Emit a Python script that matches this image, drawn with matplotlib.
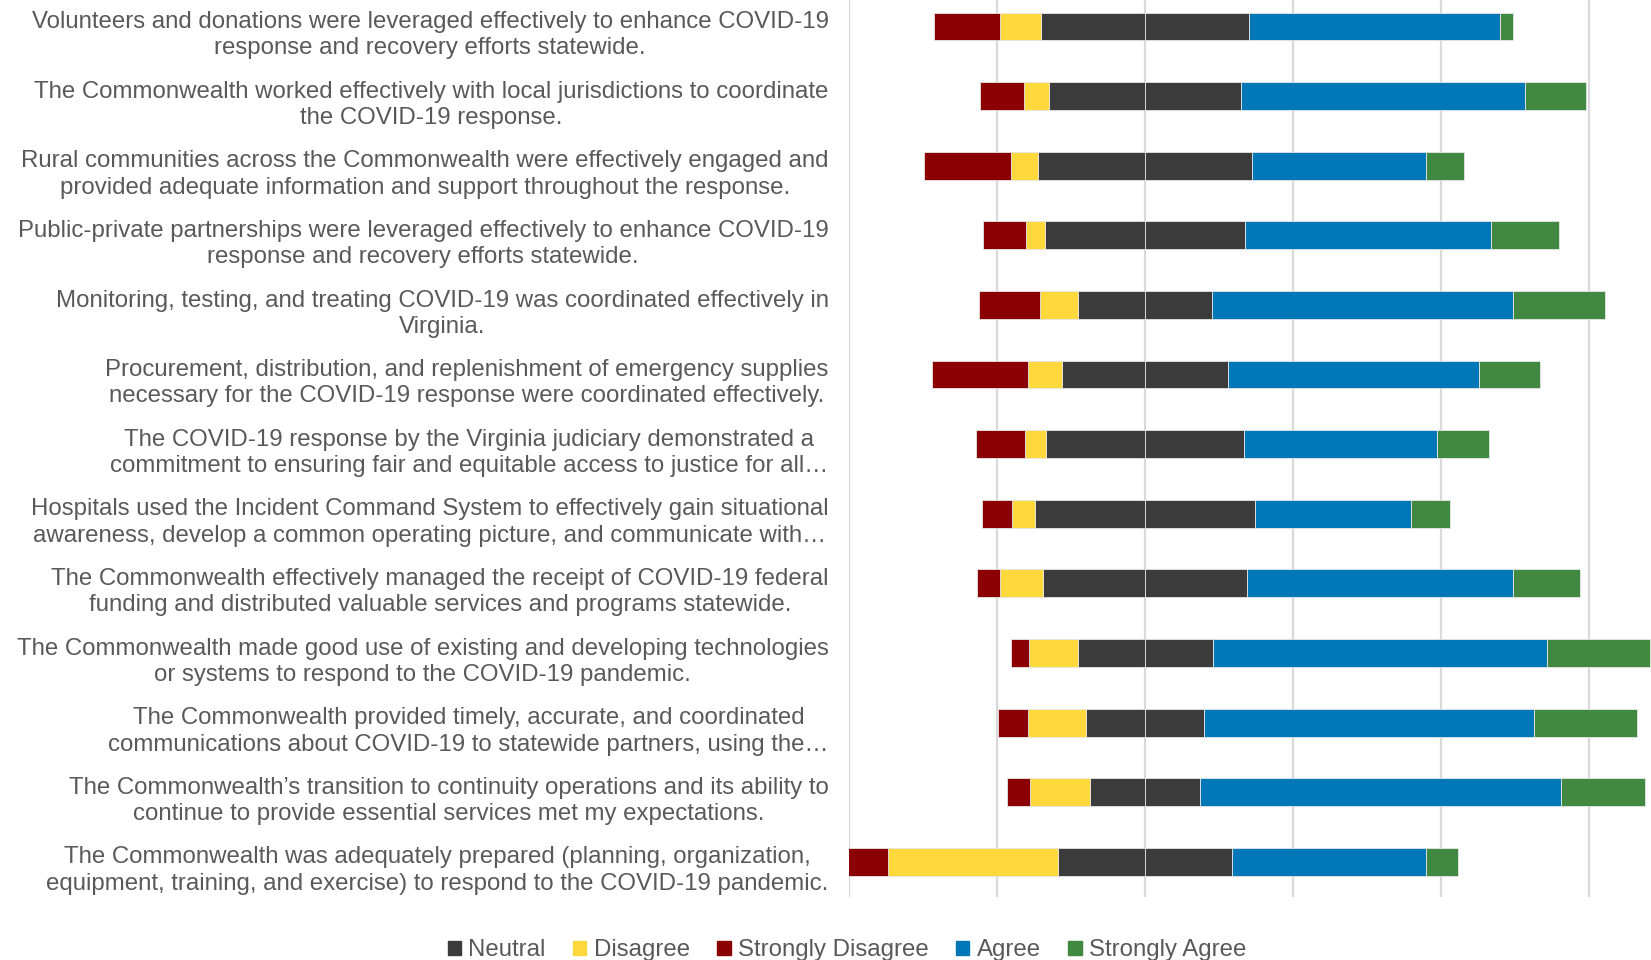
import numpy as np
import matplotlib
matplotlib.use("Agg")
import matplotlib.pyplot as plt
import matplotlib.transforms as mtransforms
from matplotlib.patches import Patch

plt.rcParams['font.family'] = ['Liberation Sans', 'DejaVu Sans']

statements = [
    "Volunteers and donations were leveraged effectively to enhance COVID-19\nresponse and recovery efforts statewide.",
    "The Commonwealth worked effectively with local jurisdictions to coordinate\nthe COVID-19 response.",
    "Rural communities across the Commonwealth were effectively engaged and\nprovided adequate information and support throughout the response.",
    "Public-private partnerships were leveraged effectively to enhance COVID-19\nresponse and recovery efforts statewide.",
    "Monitoring, testing, and treating COVID-19 was coordinated effectively in\nVirginia.",
    "Procurement, distribution, and replenishment of emergency supplies\nnecessary for the COVID-19 response were coordinated effectively.",
    "The COVID-19 response by the Virginia judiciary demonstrated a\ncommitment to ensuring fair and equitable access to justice for all\u2026",
    "Hospitals used the Incident Command System to effectively gain situational\nawareness, develop a common operating picture, and communicate with\u2026",
    "The Commonwealth effectively managed the receipt of COVID-19 federal\nfunding and distributed valuable services and programs statewide.",
    "The Commonwealth made good use of existing and developing technologies\nor systems to respond to the COVID-19 pandemic.",
    "The Commonwealth provided timely, accurate, and coordinated\ncommunications about COVID-19 to statewide partners, using the\u2026",
    "The Commonwealth\u2019s transition to continuity operations and its ability to\ncontinue to provide essential services met my expectations.",
    "The Commonwealth was adequately prepared (planning, organization,\nequipment, training, and exercise) to respond to the COVID-19 pandemic.",
]

# percent of responses per statement
strongly_disagree = [8.8, 6.0, 11.8, 5.9, 8.2, 13.0, 6.6, 4.0, 3.1, 2.4, 4.1, 3.1, 5.4]
disagree = [5.6, 3.4, 3.6, 2.6, 5.2, 4.6, 2.9, 3.2, 5.8, 6.6, 7.9, 8.1, 23.0]
neutral = [28.2, 25.9, 29.0, 27.0, 18.1, 22.5, 26.8, 29.7, 27.6, 18.3, 15.9, 14.9, 23.5]
agree = [33.9, 38.4, 23.5, 33.2, 40.7, 33.9, 26.0, 21.1, 36.0, 45.2, 44.6, 48.8, 26.2]
strongly_agree = [1.75, 8.2, 5.1, 9.2, 12.4, 8.3, 7.1, 5.2, 9.0, 13.9, 14.0, 11.3, 4.4]

c_sd = '#8B0000'
c_d = '#FFD83B'
c_n = '#3A3B3A'
c_a = '#0078B8'
c_sa = '#418940'

sd = np.array(strongly_disagree)
d = np.array(disagree)
n = np.array(neutral)
a = np.array(agree)
sa = np.array(strongly_agree)
y = np.arange(len(statements))

fig = plt.figure(figsize=(16.51, 9.6), dpi=100)
ax = fig.add_axes([0.5145, 0.066, 0.4855, 0.934])

h = 0.4
kw = dict(height=h, edgecolor='#e6e6e6', linewidth=0.6, zorder=3)
# negative side, built outward from the middle of the neutral block
ax.barh(y, -n / 2, left=0, color=c_n, **kw)
ax.barh(y, -d, left=-n / 2, color=c_d, **kw)
ax.barh(y, -sd, left=-n / 2 - d, color=c_sd, **kw)
# positive side
ax.barh(y, n / 2, left=0, color=c_n, **kw)
ax.barh(y, a, left=n / 2, color=c_a, **kw)
ax.barh(y, sa, left=n / 2 + a, color=c_sa, **kw)

ax.set_xlim(-40, 68.4)
ax.set_ylim(12.5, -0.38)
ax.set_xticks([-40, -20, 0, 20, 40, 60])
ax.set_xticklabels([])
ax.grid(axis='x', color='#d9d9d9', linewidth=1.6, zorder=0)
ax.set_axisbelow(True)
ax.tick_params(length=0)
for s in ax.spines.values():
    s.set_visible(False)

ax.set_yticks(y)
ax.set_yticklabels(statements, fontsize=17.3, color='#595959',
                   ha='right', multialignment='center', linespacing=1.25)
ax.tick_params(axis='y', pad=15)
shift = mtransforms.ScaledTranslation(0, -3 / 72, fig.dpi_scale_trans)
for lbl in ax.get_yticklabels():
    lbl.set_transform(lbl.get_transform() + shift)

handles = [Patch(color=c_n, label='Neutral'),
           Patch(color=c_d, label='Disagree'),
           Patch(color=c_sd, label='Strongly Disagree'),
           Patch(color=c_a, label='Agree'),
           Patch(color=c_sa, label='Strongly Agree')]
leg = fig.legend(handles=handles, loc='center', bbox_to_anchor=(0.513, 0.010),
                 ncol=5, frameon=False, fontsize=17.3, handlelength=0.55,
                 handleheight=0.55, handletextpad=0.3, columnspacing=1.15)
for t in leg.get_texts():
    t.set_color('#595959')

fig.savefig('out.png', dpi=100)
